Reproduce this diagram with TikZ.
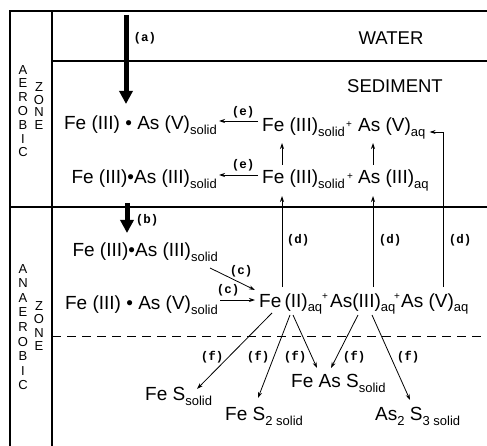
\documentclass[tikz,border=0pt]{standalone}
\usepackage{fontspec}
\setmainfont{Liberation Sans}
\newfontfamily\monofam{Liberation Mono}
\usetikzlibrary{arrows.meta,calc}
\newcommand{\sbs}[1]{\raisebox{-5pt}{\fontsize{13}{13}\selectfont #1}}
\begin{document}
\begin{tikzpicture}[x=1pt,y=-1pt,
  frame/.style={line width=1.1pt},
  bigarrow/.style={line width=5pt,-{Triangle[length=13pt,width=13pt]}},
  rxn/.style={line width=0.8pt,-{Stealth[length=6pt,width=4pt]}},
  chem/.style={inner sep=0pt,font=\fontsize{19}{22}\selectfont},
  lab/.style={inner sep=0pt,font=\monofam\bfseries\fontsize{12.5}{12.5}\selectfont},
  plusn/.style={inner sep=0pt,font=\fontsize{10}{10}\selectfont},
  zone/.style={inner sep=0pt,align=center,font=\fontsize{13}{#1}\selectfont},
  head/.style={inner sep=0pt,font=\fontsize{18.5}{20}\selectfont},
]
\useasboundingbox (0,0) rectangle (487,446);
% frame
\draw[frame] (10,446) -- (10,11) -- (487,11);
\draw[frame] (52,11) -- (52,446);
\draw[frame] (52,61) -- (487,61);
\draw[frame] (10,207) -- (487,207);
\draw[line width=1pt, dash pattern=on 9pt off 6pt] (52,336) -- (487,336);
% zone labels
\node[zone=13.8] (aer) at (23,111) {A\\E\\R\\O\\B\\I\\C};
\node[zone=12.7] (z1) at (39,106) {Z\\O\\N\\E};
\node[zone=14.6] (anaer) at (23,327) {A\\N\\A\\E\\R\\O\\B\\I\\C};
\node[zone=13.3] (z2) at (39,326) {Z\\O\\N\\E};
% headings
\node[head] (water) at (391,38) {WATER};
\node[head] (sed) at (395,86) {SEDIMENT};
% aerobic species
\node[chem,anchor=base east] (a1) at (217,130) {Fe (III) \textbullet{} As (V)\sbs{solid}};
\node[chem,anchor=base east] (a2) at (217,184) {Fe (III)\textbullet As (III)\sbs{solid}};
\node[chem,anchor=base west] (r1fe) at (262,132) {Fe (III)\sbs{solid}};
\node[plusn] (p1) at (349,125) {+};
\node[chem,anchor=base west] (r1as) at (358,132) {As (V)\sbs{aq}};
\node[chem,anchor=base west] (r2fe) at (262,184) {Fe (III)\sbs{solid}};
\node[plusn] (p2) at (350,177) {+};
\node[chem,anchor=base west] (r2as) at (358,184) {As (III)\sbs{aq}};
% anaerobic species
\node[chem,anchor=base east] (b1) at (218,257) {Fe (III)\textbullet As (III)\sbs{solid}};
\node[chem,anchor=base east] (b2) at (218,309) {Fe (III) \textbullet{} As (V)\sbs{solid}};
\node[chem,anchor=base west] (c1) at (259,307) {Fe\,(II)\sbs{aq}};
\node[plusn] (p3) at (325,297) {+};
\node[chem,anchor=base west] (c2) at (330,307) {As(III)\sbs{aq}};
\node[plusn] (p4) at (397,297) {+};
\node[chem,anchor=base west] (c3) at (401,307) {As (V)\sbs{aq}};
% products
\node[chem,anchor=base west] (fes) at (145,400) {Fe S\sbs{solid}};
\node[chem,anchor=base west] (fes2) at (225,420) {Fe S\sbs{2 solid}};
\node[chem,anchor=base west] (feass) at (291,387) {Fe As S\sbs{solid}};
\node[chem,anchor=base west] (as2s3) at (375,420) {As\sbs{2} S\sbs{3 solid}};
% labels
\node[lab] (la) at (145,38) {(a)};
\node[lab] (lb) at (147,220) {(b)};
\node[lab] (le1) at (243,112) {(e)};
\node[lab] (le2) at (243,165) {(e)};
\node[lab] (lc1) at (241,271) {(c)};
\node[lab] (lc2) at (228,290) {(c)};
\node[lab] (ld1) at (298,240) {(d)};
\node[lab] (ld2) at (390,240) {(d)};
\node[lab] (ld3) at (460,240) {(d)};
\node[lab] (lf1) at (212,357) {(f)};
\node[lab] (lf2) at (258,357) {(f)};
\node[lab] (lf3) at (295,357) {(f)};
\node[lab] (lf4) at (354,357) {(f)};
\node[lab] (lf5) at (408,357) {(f)};
% thick arrows
\coordinate (atop) at (126,15);
\coordinate (abot) at (126,104);
\draw[bigarrow] (atop) -- (abot);
\coordinate (btop) at (127,203);
\coordinate (bbot) at (127,233);
\draw[bigarrow] (btop) -- (bbot);
% (e)
\draw[rxn] ($(r1fe.base west)+(-4,-11)$) -- ($(a1.base east)+(2,-9)$);
\draw[rxn] ($(r2fe.base west)+(-4,-9)$) -- ($(a2.base east)+(2,-9)$);
% oxidation up arrows
\draw[rxn] ($(r2fe.base west)+(20,-19)$) -- ($(r1fe.base west)+(20,11)$);
\draw[rxn] ($(r2as.base west)+(15,-19)$) -- ($(r1as.base west)+(15,11)$);
% (d)
\draw[rxn] ($(c1.base west)+(23,-20)$) -- ($(r2fe.base west)+(20,12)$);
\draw[rxn] ($(c2.base west)+(43,-20)$) -- ($(r2as.base west)+(15,12)$);
\draw[rxn] ($(c3.base west)+(42,-20)$) |- ($(r1as.base east)+(4,0)$);
% (c)
\draw[rxn] ($(b1.base east)+(-8,11)$) -- ($(c1.base west)+(-4,-17)$);
\draw[rxn] ($(b2.base east)+(2,-9)$) -- ($(c1.base west)+(-4,-7)$);
% (f)
\draw[rxn] ($(c1.base west)+(13,6)$) -- ($(fes.base west)+(52,-11)$);
\draw[rxn] ($(c1.base west)+(31,8)$) -- ($(fes2.base west)+(33,-22)$);
\draw[rxn] ($(c1.base west)+(34,8)$) -- ($(feass.base west)+(26,-19)$);
\draw[rxn] ($(c2.base west)+(28,8)$) -- ($(feass.base west)+(40,-19)$);
\draw[rxn] ($(c2.base west)+(42,8)$) -- ($(as2s3.base west)+(35,-20)$);
\end{tikzpicture}
\end{document}
